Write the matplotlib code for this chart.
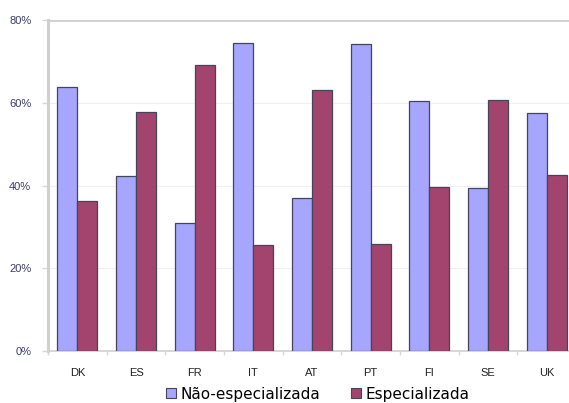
import matplotlib
matplotlib.use("Agg")
import matplotlib.pyplot as plt
import numpy as np
from matplotlib.patches import Patch

countries = ["DK", "ES", "FR", "IT", "AT", "PT", "FI", "SE", "UK"]
nao_especializada = [63.8, 42.3, 30.9, 74.4, 37.0, 74.2, 60.4, 39.4, 57.5]
especializada = [36.2, 57.7, 69.1, 25.6, 63.0, 25.8, 39.6, 60.6, 42.5]
y_ticks = [0, 20, 40, 60, 80]
y_tick_labels = ["0%", "20%", "40%", "60%", "80%"]
series_names = ["Não-especializada", "Especializada"]

blue = "#A6A6FF"
red = "#A3446F"
edge = "#44445a"

fig = plt.figure(figsize=(5.69, 4.03), dpi=100)
ax = fig.add_axes([48 / 569, 52 / 403, 528 / 569, 331 / 403])

x = np.arange(len(countries))
w = 0.34
ax.bar(x - w / 2, nao_especializada, w, color=blue, edgecolor=edge, linewidth=0.9, zorder=3)
ax.bar(x + w / 2, especializada, w, color=red, edgecolor=edge, linewidth=0.9, zorder=3)

ax.set_xlim(-0.5, len(countries) - 0.5)
ax.set_ylim(0, 80)

ax.set_yticks(y_ticks)
ax.set_yticklabels(y_tick_labels, fontsize=8, color="#3c3c6a", family="Liberation Sans")
ax.set_xticks(x)
ax.set_xticklabels(countries, fontsize=8, color="#222222", family="Liberation Sans")
ax.tick_params(axis="x", length=0, pad=12)
ax.tick_params(axis="y", length=4, color="#d8d8d8", width=1, pad=8)
ax.set_xticks(np.arange(-0.5, len(countries), 1), minor=True)
ax.tick_params(axis="x", which="minor", length=3, color="#d8d8d8", width=1)

for y in y_ticks[1:-1]:
    ax.axhline(y, color="#f0f0f0", linewidth=0.8, zorder=0)
ax.axhline(80, color="#d0d0d0", linewidth=2, zorder=1)

for s in ["top", "right"]:
    ax.spines[s].set_visible(False)
ax.spines["left"].set_color("#d0d0d0")
ax.spines["left"].set_linewidth(2.2)
ax.spines["bottom"].set_color("#d0d0d0")
ax.spines["bottom"].set_linewidth(1.2)

handles = [Patch(facecolor=blue, edgecolor=edge, linewidth=0.8),
           Patch(facecolor=red, edgecolor=edge, linewidth=0.8)]
fig.legend(handles, series_names, loc="center", bbox_to_anchor=(318 / 569, 1 - 394 / 403),
           ncol=2, frameon=False, handlelength=0.65, handleheight=0.65,
           handletextpad=0.3, columnspacing=2.0,
           prop={"family": "DejaVu Sans", "size": 11})

fig.savefig("out.png", dpi=100)
